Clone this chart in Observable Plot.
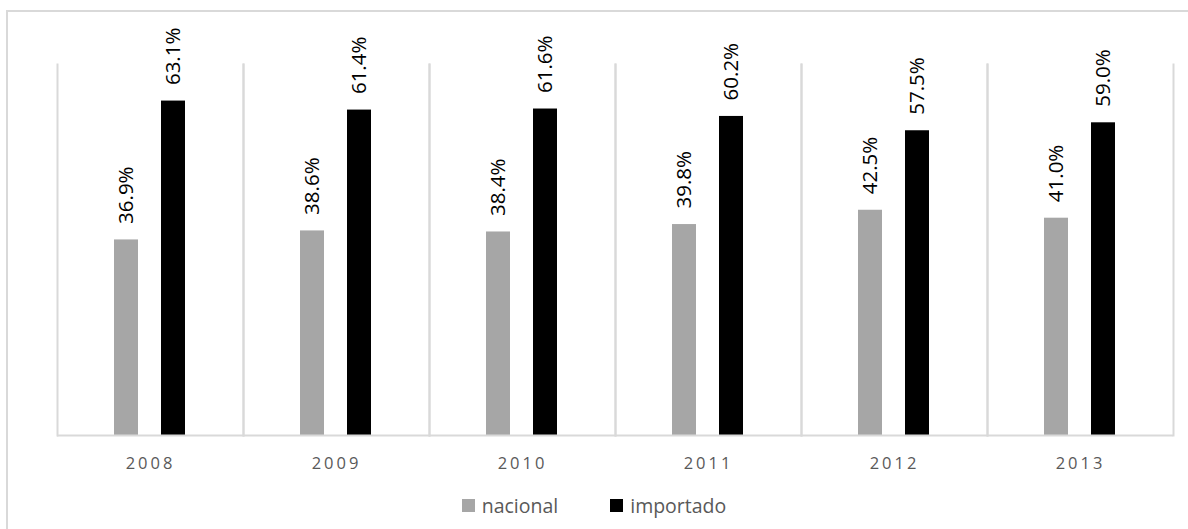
<!DOCTYPE html>
<html>
<head>
<meta charset="utf-8">
<script src="https://cdn.jsdelivr.net/npm/d3@7"></script>
<script src="https://cdn.jsdelivr.net/npm/@observablehq/plot@0.6"></script>
<style>
  html, body { margin: 0; padding: 0; background: #fff; overflow: hidden; }
  #chart { position: relative; width: 1188px; height: 529px; font-family: "Open Sans", sans-serif; }
  #frame { position: absolute; left: 6px; top: 10px; width: 1210px; height: 600px; border: 2px solid #d9d9d9; box-sizing: border-box; }
  #plot { position: absolute; left: 0; top: 0; }
  #legend { position: absolute; left: 0; top: 492px; width: 1188px; display: flex; justify-content: center; align-items: center; font-size: 19.5px; color: #595959; }
  .item { display: flex; align-items: center; margin: 0 26px; }
  .sw { width: 13px; height: 13px; margin-right: 7px; }
  g[aria-label="fx-axis tick label"] text { letter-spacing: 3px; }
</style>
</head>
<body>
<div id="chart">
  <div id="frame"></div>
  <div id="plot"></div>
  <div id="legend"></div>
</div>
<script>
// Share of consumption by origin, per year
const years = ["2008", "2009", "2010", "2011", "2012", "2013"];
const series = ["nacional", "importado"];
const nacional = [36.9, 38.6, 38.4, 39.8, 42.5, 41.0];
const importado = [63.1, 61.4, 61.6, 60.2, 57.5, 59.0];
const colors = ["#a6a6a6", "#000000"];

const rows = years.flatMap((year, i) => [
  {year, series: "nacional", value: nacional[i]},
  {year, series: "importado", value: importado[i]}
]);

const grid = "#d9d9d9";

const plot = Plot.plot({
  width: 1188,
  height: 485,
  marginLeft: 55,
  marginRight: 13,
  marginTop: 64,
  marginBottom: 50,
  style: {fontFamily: "'Open Sans', sans-serif", background: "transparent", overflow: "visible"},
  fx: {domain: years, padding: 0, label: null},
  x: {domain: series, paddingInner: 0.479, paddingOuter: 1.184, axis: null},
  y: {domain: [0, 70], axis: null},
  color: {domain: series, range: colors},
  marks: [
    Plot.frame({anchor: "left", stroke: grid, strokeWidth: 2}),
    Plot.frame({anchor: "right", stroke: grid, strokeWidth: 2}),
    Plot.barY(rows, {fx: "year", x: "series", y: "value", fill: "series"}),
    Plot.ruleY([0], {stroke: grid, strokeWidth: 2}),
    Plot.text(rows, {
      fx: "year", x: "series", y: "value",
      text: d => d.value.toFixed(1) + "%",
      rotate: -90, textAnchor: "start", dy: -16,
      fontSize: 20.5, fill: "#000"
    }),
    Plot.axisFx({anchor: "bottom", tickSize: 0, tickPadding: 22, fontSize: 16.5, color: "#595959", label: null})
  ]
});
document.getElementById("plot").appendChild(plot);

// Legend below the plot
const legend = document.getElementById("legend");
series.forEach((s, i) => {
  const item = document.createElement("div");
  item.className = "item";
  const sw = document.createElement("span");
  sw.className = "sw";
  sw.style.background = colors[i];
  const label = document.createElement("span");
  label.textContent = s;
  item.appendChild(sw);
  item.appendChild(label);
  legend.appendChild(item);
});
</script>
</body>
</html>
